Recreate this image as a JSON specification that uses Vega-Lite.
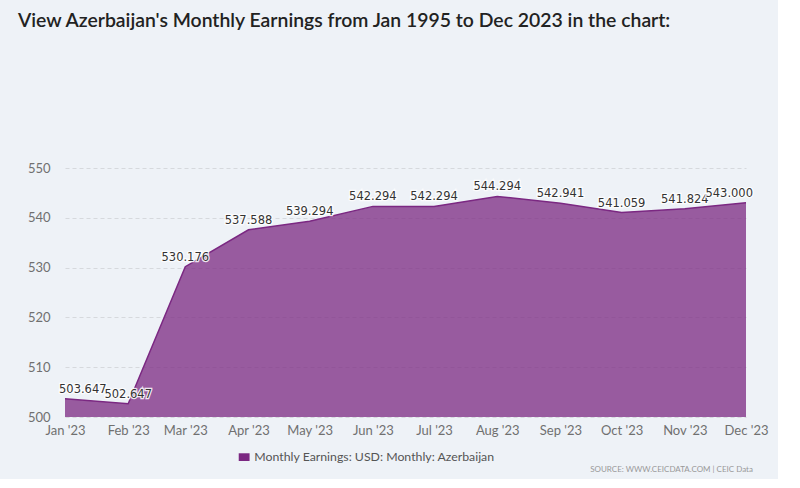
{
  "$schema": "https://vega.github.io/schema/vega-lite/v6.json",
  "background": "#EEF2F7",
  "padding": {"left": 18, "top": 10, "right": 10, "bottom": 5},
  "title": {
    "text": "View Azerbaijan's Monthly Earnings from Jan 1995 to Dec 2023 in the chart:",
    "anchor": "start",
    "font": "Lato",
    "fontSize": 19.4,
    "fontWeight": 600,
    "color": "#222222",
    "offset": 131,
    "dx": -9
  },
  "config": {
    "view": {"stroke": null},
    "font": "Lato"
  },
  "data": {
    "values": [
      {"date": "2023-01-01", "value": 503.647},
      {"date": "2023-02-01", "value": 502.647},
      {"date": "2023-03-01", "value": 530.176},
      {"date": "2023-04-01", "value": 537.588},
      {"date": "2023-05-01", "value": 539.294},
      {"date": "2023-06-01", "value": 542.294},
      {"date": "2023-07-01", "value": 542.294},
      {"date": "2023-08-01", "value": 544.294},
      {"date": "2023-09-01", "value": 542.941},
      {"date": "2023-10-01", "value": 541.059},
      {"date": "2023-11-01", "value": 541.824},
      {"date": "2023-12-01", "value": 543.0}
    ]
  },
  "vconcat": [
    {
      "width": 681,
      "height": 249,
      "title": {
        "text": "SOURCE: WWW.CEICDATA.COM | CEIC Data",
        "orient": "bottom",
        "anchor": "end",
        "font": "Lato",
        "fontSize": 8,
        "fontWeight": "normal",
        "color": "#999999",
        "offset": 29,
        "dx": -15
      },
      "encoding": {
        "x": {
          "field": "date",
          "type": "temporal",
          "timeUnit": "utcyearmonth",
          "scale": {"nice": false},
          "axis": {
            "title": null,
            "format": "%b '%y",
            "tickCount": {"interval": "month", "step": 1},
            "labelFlush": false,
            "labelOverlap": false,
            "labelFont": "Lato",
            "labelFontSize": 13,
            "labelColor": "#707070",
            "labelPadding": 7,
            "ticks": false,
            "domain": false,
            "grid": false
          }
        },
        "y": {
          "field": "value",
          "type": "quantitative",
          "scale": {"domain": [500, 550], "zero": false, "nice": false},
          "axis": {
            "title": null,
            "values": [500, 510, 520, 530, 540, 550],
            "labelFont": "Lato",
            "labelFontSize": 13,
            "labelColor": "#707070",
            "labelPadding": 15,
            "minExtent": 38,
            "maxExtent": 38,
            "ticks": false,
            "domain": false,
            "grid": true,
            "gridColor": "#d6d9dd",
            "gridDash": [4, 3],
            "gridWidth": 1
          }
        }
      },
      "layer": [
        {
          "mark": {"type": "area", "fillOpacity": 0.75, "interpolate": "linear"},
          "encoding": {
            "y2": {"datum": 500},
            "color": {
              "datum": "Monthly Earnings: USD: Monthly: Azerbaijan",
              "type": "nominal",
              "scale": {"range": ["#7B2882"]},
              "legend": {
                "title": null,
                "orient": "none",
                "legendX": 173,
                "legendY": 283,
                "labelLimit": 500,
                "symbolType": "M-1.4,-1H1.4V1H-1.4Z",
                "symbolSize": 60,
                "symbolOpacity": 1,
                "symbolStrokeWidth": 0,
                "labelFont": "Lato",
                "labelFontSize": 12.3,
                "labelColor": "#555555"
              }
            }
          }
        },
        {
          "mark": {"type": "line", "color": "#7B2882", "strokeWidth": 1.5}
        },
        {
          "transform": [{"filter": "month(datum.date) > 0 && month(datum.date) < 11"}],
          "mark": {"type": "text", "font": "DejaVu Sans", "fontSize": 11.5, "baseline": "bottom", "dy": -4, "stroke": "#ffffff", "strokeWidth": 2.5, "strokeOpacity": 0.85, "fill": "#ffffff"},
          "encoding": {"text": {"field": "value", "type": "quantitative", "format": ".3f"}}
        },
        {
          "transform": [{"filter": "month(datum.date) > 0 && month(datum.date) < 11"}],
          "mark": {"type": "text", "font": "DejaVu Sans", "fontSize": 11.5, "baseline": "bottom", "dy": -4, "color": "#333333"},
          "encoding": {"text": {"field": "value", "type": "quantitative", "format": ".3f"}}
        },
        {
          "transform": [{"filter": "month(datum.date) == 0"}],
          "mark": {"type": "text", "font": "DejaVu Sans", "fontSize": 11.5, "baseline": "bottom", "align": "left", "dx": -6, "dy": -4, "stroke": "#ffffff", "strokeWidth": 2.5, "strokeOpacity": 0.85, "fill": "#ffffff"},
          "encoding": {"text": {"field": "value", "type": "quantitative", "format": ".3f"}}
        },
        {
          "transform": [{"filter": "month(datum.date) == 0"}],
          "mark": {"type": "text", "font": "DejaVu Sans", "fontSize": 11.5, "baseline": "bottom", "align": "left", "dx": -6, "dy": -4, "color": "#333333"},
          "encoding": {"text": {"field": "value", "type": "quantitative", "format": ".3f"}}
        },
        {
          "transform": [{"filter": "month(datum.date) == 11"}],
          "mark": {"type": "text", "font": "DejaVu Sans", "fontSize": 11.5, "baseline": "bottom", "align": "right", "dx": 7, "dy": -4, "stroke": "#ffffff", "strokeWidth": 2.5, "strokeOpacity": 0.85, "fill": "#ffffff"},
          "encoding": {"text": {"field": "value", "type": "quantitative", "format": ".3f"}}
        },
        {
          "transform": [{"filter": "month(datum.date) == 11"}],
          "mark": {"type": "text", "font": "DejaVu Sans", "fontSize": 11.5, "baseline": "bottom", "align": "right", "dx": 7, "dy": -4, "color": "#333333"},
          "encoding": {"text": {"field": "value", "type": "quantitative", "format": ".3f"}}
        }
      ]
    }
  ]
}
